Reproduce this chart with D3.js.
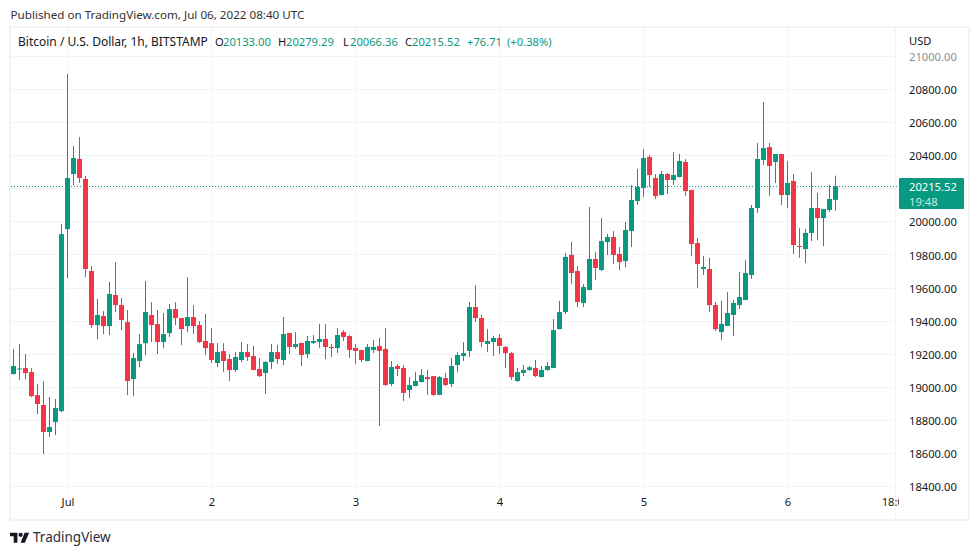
<!DOCTYPE html>
<html>
<head>
<meta charset="utf-8">
<script src="https://cdn.jsdelivr.net/npm/d3@7"></script>
<style>
  html, body { margin: 0; padding: 0; background: #fff; overflow: hidden; }
  text { font-family: "Noto Sans", sans-serif; }
</style>
</head>
<body>
<div id="chart"></div>
<script>
// hourly BTC/USD candles, first one is Jun 30 15:00 UTC
const opens = [
  19080, 19110, 19116, 19092, 18953, 18893, 18730, 18790, 18856, 19956,
  20289, 20380, 20259, 19703, 19376, 19431, 19370, 19558, 19497, 19394,
  19050, 19159, 19267, 19437, 19382, 19274, 19328, 19473, 19419, 19370,
  19425, 19376, 19280, 19267, 19147, 19219, 19171, 19105, 19165, 19213,
  19189, 19111, 19087, 19153, 19213, 19165, 19328, 19244, 19268, 19201,
  19268, 19274, 19292, 19244, 19238, 19334, 19310, 19238, 19226, 19159,
  19226, 19250, 19232, 19020, 19129, 19117, 18984, 19008, 19032, 19062,
  19068, 18954, 19056, 19020, 19135, 19189, 19220, 19485, 19419, 19262,
  19274, 19298, 19244, 19207, 19038, 19087, 19105, 19117, 19062, 19105,
  19117, 19352, 19455, 19800, 19703, 19510, 19588, 19776, 19709, 19878,
  19909, 19806, 19763, 19945, 20126, 20205, 20392, 20265, 20162, 20289,
  20253, 20271, 20362, 20193, 19872, 19715, 19715, 19497, 19334, 19371,
  19437, 19497, 19528, 19679, 20084, 20374, 20452, 20362, 20410, 20162,
  20247, 19854, 19836, 19933, 20084, 20023, 20072, 20133
];
const highs = [
  19231, 19261, 19201, 19116, 19020, 19038, 18941, 18929, 19987, 20893,
  20458, 20513, 20277, 19733, 19534, 19461, 19636, 19757, 19540, 19467,
  19207, 19322, 19642, 19515, 19467, 19449, 19503, 19515, 19419, 19666,
  19497, 19400, 19443, 19358, 19267, 19267, 19201, 19213, 19274, 19262,
  19250, 19177, 19159, 19262, 19256, 19425, 19328, 19334, 19268, 19310,
  19316, 19383, 19383, 19262, 19358, 19346, 19316, 19262, 19226, 19262,
  19286, 19298, 19358, 19159, 19141, 19135, 19062, 19093, 19111, 19105,
  19068, 19068, 19087, 19177, 19213, 19274, 19516, 19618, 19437, 19352,
  19310, 19322, 19250, 19213, 19117, 19135, 19129, 19165, 19129, 19153,
  19413, 19522, 19812, 19878, 19733, 19624, 20090, 19818, 20023, 19927,
  19945, 19848, 19999, 20223, 20320, 20440, 20404, 20289, 20307, 20295,
  20422, 20410, 20380, 20193, 19902, 19794, 19782, 19516, 19522, 19576,
  19528, 19697, 19770, 20102, 20477, 20724, 20477, 20410, 20410, 20368,
  20289, 19963, 19957, 20301, 20175, 20078, 20223, 20279.29
];
const lows = [
  19078, 19044, 19050, 18941, 18838, 18597, 18699, 18711, 18850, 19660,
  20222, 20235, 19666, 19358, 19292, 19322, 19316, 19455, 19346, 18953,
  18947, 19122, 19195, 19274, 19201, 19237, 19304, 19376, 19255, 19334,
  19322, 19267, 19195, 19147, 19122, 19092, 19038, 19093, 19153, 19159,
  19103, 19062, 18960, 19111, 19141, 19135, 19201, 19232, 19129, 19177,
  19262, 19238, 19171, 19183, 19207, 19280, 19177, 19141, 19153, 19157,
  19207, 18766, 19008, 19008, 19068, 18917, 18935, 19006, 19030, 18954,
  18948, 18952, 19008, 19002, 19092, 19159, 19183, 19395, 19244, 19213,
  19189, 19201, 19117, 19044, 19032, 19068, 19099, 19062, 19060, 19099,
  19115, 19350, 19443, 19624, 19485, 19485, 19586, 19649, 19703, 19800,
  19745, 19709, 19727, 19848, 20102, 20150, 20211, 20138, 20160, 20168,
  20223, 20269, 20156, 19794, 19600, 19679, 19455, 19340, 19286, 19369,
  19310, 19473, 19526, 19655, 20054, 20344, 20156, 20235, 20102, 20084,
  19806, 19782, 19751, 19884, 19890, 19854, 20060, 20066.36
];
const closes = [
  19129, 19114, 19086, 18947, 18899, 18730, 18760, 18875, 19926, 20265,
  20386, 20265, 19715, 19376, 19437, 19370, 19564, 19497, 19407, 19038,
  19177, 19261, 19455, 19376, 19274, 19322, 19473, 19419, 19352, 19425,
  19370, 19274, 19237, 19165, 19213, 19159, 19104, 19183, 19213, 19183,
  19105, 19068, 19153, 19213, 19171, 19322, 19244, 19262, 19195, 19280,
  19280, 19292, 19244, 19238, 19316, 19304, 19226, 19220, 19165, 19244,
  19244, 19220, 19014, 19123, 19111, 18966, 19014, 19038, 19074, 19050,
  18954, 19062, 19014, 19129, 19195, 19207, 19485, 19419, 19274, 19280,
  19298, 19250, 19207, 19062, 19092, 19105, 19121, 19068, 19105, 19129,
  19346, 19455, 19788, 19691, 19516, 19606, 19776, 19721, 19884, 19909,
  19800, 19757, 19951, 20132, 20211, 20386, 20283, 20156, 20289, 20253,
  20283, 20368, 20186, 19866, 19745, 19727, 19497, 19352, 19383, 19449,
  19510, 19546, 19691, 20084, 20380, 20446, 20338, 20410, 20162, 20235,
  19860, 19848, 19933, 20084, 20023, 20078, 20138, 20215.52
];
const priceTicks = [21000, 20800, 20600, 20400, 20200, 20000, 19800, 19600, 19400, 19200, 19000, 18800, 18600, 18400];
const hiddenPriceTicks = [20200]; // covered by the last price label
const dayTicks = ["2022-07-01", "2022-07-02", "2022-07-03", "2022-07-04", "2022-07-05", "2022-07-06", "2022-07-06T18:00"];
const dayLabels = ["Jul", "2", "3", "4", "5", "6", "18:00"];
const firstHour = "2022-06-30T15:00";
const lastPrice = "20215.52";
const countdown = "19:48";

const width = 979,
  height = 555;
const green = "#089981",
  red = "#f23645",
  gridColor = "#f0f3fa",
  textColor = "#131722";
const axisFont = 11.2;

const utc = (s) => new Date(s + "Z");
const hours = opens.map((d, i) => new Date(+utc(firstHour) + i * 36e5));

const svg = d3
  .select("#chart")
  .append("svg")
  .attr("width", width)
  .attr("height", height)
  .style("display", "block");

const x = d3
  .scaleUtc()
  .domain([utc(dayTicks[0]), utc(dayTicks[5])])
  .range([67.5, 787.5]);

const y = d3.scaleLinear().domain([18400, 21000]).range([486.6, 56.4]);
const snap = (v) => Math.round(v - 0.5) + 0.5;

// frame
svg
  .append("rect")
  .attr("x", 10)
  .attr("y", 27)
  .attr("width", 959)
  .attr("height", 493)
  .attr("fill", "#fff")
  .attr("stroke", gridColor)
  .attr("stroke-width", 2);

svg
  .append("line")
  .attr("x1", 895.5)
  .attr("x2", 895.5)
  .attr("y1", 27)
  .attr("y2", 519)
  .attr("stroke", gridColor);

// grid
svg
  .selectAll(".h-grid")
  .data(priceTicks)
  .enter()
  .append("line")
  .attr("class", "h-grid")
  .attr("x1", 11)
  .attr("x2", 899)
  .attr("y1", (d) => snap(y(d)))
  .attr("y2", (d) => snap(y(d)))
  .attr("stroke", gridColor);

const dayDates = dayTicks.map(utc);

svg
  .selectAll(".v-grid")
  .data(dayDates)
  .enter()
  .append("line")
  .attr("class", "v-grid")
  .attr("x1", (d) => x(d))
  .attr("x2", (d) => x(d))
  .attr("y1", 28)
  .attr("y2", 492)
  .attr("stroke", gridColor);

// last price line
svg
  .append("line")
  .attr("x1", 11)
  .attr("x2", 899)
  .attr("y1", snap(y(+lastPrice)))
  .attr("y2", snap(y(+lastPrice)))
  .attr("stroke", green)
  .attr("stroke-dasharray", "1 2");

// candles
const candles = svg
  .selectAll(".candle")
  .data(opens.map((d, i) => i))
  .enter()
  .append("g")
  .attr("class", "candle")
  .attr("fill", (i) => (closes[i] >= opens[i] ? green : red))
  .attr("stroke", (i) => (closes[i] >= opens[i] ? green : red));

candles
  .append("line")
  .attr("x1", (i) => x(hours[i]))
  .attr("x2", (i) => x(hours[i]))
  .attr("y1", (i) => y(highs[i]))
  .attr("y2", (i) => y(lows[i]));

candles
  .append("rect")
  .attr("x", (i) => x(hours[i]) - 2.5)
  .attr("width", 5)
  .attr("y", (i) => y(Math.max(opens[i], closes[i])))
  .attr("height", (i) => Math.max(1, Math.abs(y(opens[i]) - y(closes[i]))))
  .attr("stroke", "none");

// price axis
const priceAxis = d3
  .axisRight(y)
  .tickValues(priceTicks.filter((d) => !hiddenPriceTicks.includes(d)))
  .tickSize(0)
  .tickPadding(0)
  .tickFormat(d3.format(".2f"));

const priceG = svg
  .append("g")
  .attr("transform", "translate(909,0.5)")
  .call(priceAxis);
priceG.select(".domain").remove();
priceG
  .selectAll("text")
  .attr("font-size", axisFont)
  .attr("fill", (d) => (d === 21000 ? "#8a8e97" : textColor))
  .style("font-family", '"Noto Sans", sans-serif');

svg
  .append("text")
  .attr("x", 909)
  .attr("y", 45)
  .attr("font-size", axisFont)
  .attr("fill", textColor)
  .text("USD");

// last price label
svg
  .append("rect")
  .attr("x", 899)
  .attr("y", 178)
  .attr("width", 65)
  .attr("height", 31)
  .attr("rx", 1)
  .attr("fill", green);

svg
  .append("text")
  .attr("x", 909)
  .attr("y", 190.5)
  .attr("font-size", axisFont)
  .attr("fill", "#fff")
  .text(lastPrice);

svg
  .append("text")
  .attr("x", 909)
  .attr("y", 205.5)
  .attr("font-size", axisFont)
  .attr("fill", "#c8ebe3")
  .text(countdown);

// time axis, the last label gets cut by the price scale
svg
  .append("clipPath")
  .attr("id", "time-clip")
  .append("rect")
  .attr("x", 11)
  .attr("y", 490)
  .attr("width", 888)
  .attr("height", 30);

const timeAxis = d3
  .axisBottom(x)
  .tickValues(dayDates)
  .tickSize(0)
  .tickPadding(0)
  .tickFormat((d, i) => dayLabels[i]);

const timeG = svg
  .append("g")
  .attr("clip-path", "url(#time-clip)")
  .append("g")
  .attr("transform", "translate(0,498)")
  .call(timeAxis);
timeG.select(".domain").remove();
timeG
  .selectAll("text")
  .attr("font-size", axisFont)
  .attr("fill", textColor)
  .style("font-family", '"Noto Sans", sans-serif');

// header and legend
svg
  .append("text")
  .attr("x", 10.5)
  .attr("y", 18.5)
  .attr("font-size", 11.65)
  .attr("fill", "#333")
  .text("Published on TradingView.com, Jul 06, 2022 08:40 UTC");

svg
  .append("text")
  .attr("x", 18)
  .attr("y", 45.5)
  .attr("font-size", 12)
  .attr("fill", textColor)
  .text("Bitcoin / U.S. Dollar, 1h, BITSTAMP");

const legendKeys = ["O", "H", "L", "C"];
const legendValues = ["20133.00", "20279.29", "20066.36", "20215.52"];
const keyX = [215, 278, 343, 405];
const valueX = [223, 286, 350, 412];

legendKeys.forEach((k, i) => {
  svg
    .append("text")
    .attr("x", keyX[i])
    .attr("y", 45.5)
    .attr("font-size", axisFont)
    .attr("fill", textColor)
    .text(k);
  svg
    .append("text")
    .attr("x", valueX[i])
    .attr("y", 45.5)
    .attr("font-size", axisFont)
    .attr("fill", green)
    .text(legendValues[i]);
});

svg
  .append("text")
  .attr("x", 467)
  .attr("y", 45.5)
  .attr("font-size", axisFont)
  .attr("fill", green)
  .text("+76.71");

svg
  .append("text")
  .attr("x", 507)
  .attr("y", 45.5)
  .attr("font-size", axisFont)
  .attr("fill", green)
  .text("(+0.38%)");

// logo
const logo = svg
  .append("g")
  .attr("transform", "translate(10,530) scale(0.53)")
  .attr("fill", "#131722");
logo.append("path").attr("d", "M14 24H7V12H0V5h14v19z M28 24h-8l7.5-19h8.5L28 24z");
logo.append("circle").attr("cx", 20).attr("cy", 9).attr("r", 4);

svg
  .append("text")
  .attr("x", 33)
  .attr("y", 542)
  .attr("font-size", 13.5)
  .attr("fill", "#2a2e39")
  .text("TradingView");
</script>
</body>
</html>
